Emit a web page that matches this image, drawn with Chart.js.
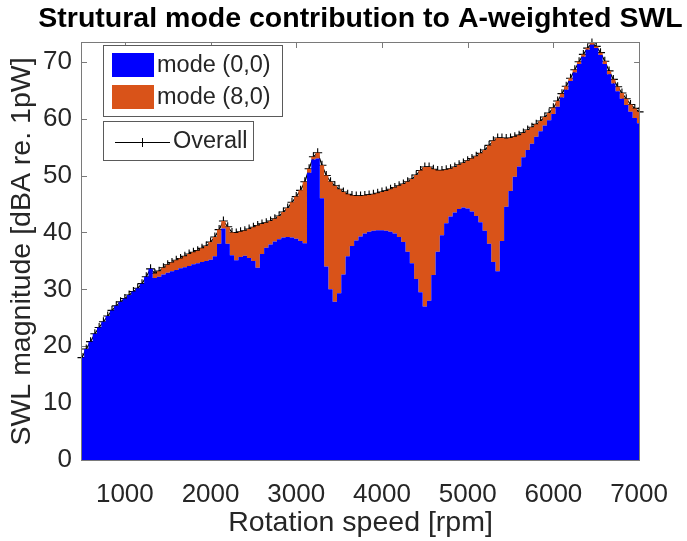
<!DOCTYPE html>
<html>
<head>
<meta charset="utf-8">
<script src="https://cdn.jsdelivr.net/npm/chart.js@4/dist/chart.umd.min.js"></script>
<style>
  html, body { margin: 0; padding: 0; background: #fff; }
  canvas { display: block; }
</style>
</head>
<body>
<canvas id="swl" width="687" height="541"></canvas>
<script>
// Rotation speed grid [rpm]
const rpm = [
  500, 550, 600, 650, 700, 750, 800, 850, 900, 950,
  1000, 1050, 1100, 1150, 1200, 1250, 1300, 1350, 1400, 1450,
  1500, 1550, 1600, 1650, 1700, 1750, 1800, 1850, 1900, 1950,
  2000, 2050, 2100, 2150, 2200, 2250, 2300, 2350, 2400, 2450,
  2500, 2550, 2600, 2650, 2700, 2750, 2800, 2850, 2900, 2950,
  3000, 3050, 3100, 3150, 3200, 3250, 3300, 3350, 3400, 3450,
  3500, 3550, 3600, 3650, 3700, 3750, 3800, 3850, 3900, 3950,
  4000, 4050, 4100, 4150, 4200, 4250, 4300, 4350, 4400, 4450,
  4500, 4550, 4600, 4650, 4700, 4750, 4800, 4850, 4900, 4950,
  5000, 5050, 5100, 5150, 5200, 5250, 5300, 5350, 5400, 5450,
  5500, 5550, 5600, 5650, 5700, 5750, 5800, 5850, 5900, 5950,
  6000, 6050, 6100, 6150, 6200, 6250, 6300, 6350, 6400, 6450,
  6500, 6550, 6600, 6650, 6700, 6750, 6800, 6850, 6900, 6950,
  7000
];

// Stacked share of mode (0,0) [dBA]
const mode00 = [
  18.0, 19.5, 20.8, 22.2, 23.3, 24.3, 25.3, 26.3, 27.1, 27.8,
  28.4, 29.0, 29.6, 30.2, 31.0, 32.2, 33.6, 32.0, 32.2, 32.6,
  32.9, 33.2, 33.4, 33.7, 33.9, 34.1, 34.4, 34.6, 34.8, 35.0,
  35.2, 35.8, 38.0, 40.7, 38.0, 36.0, 35.1, 35.7, 35.9, 35.5,
  35.0, 33.8, 36.2, 37.3, 37.9, 38.4, 38.8, 39.1, 39.2, 39.1,
  38.9, 38.5, 38.1, 50.5, 52.8, 53.0, 46.0, 34.0, 30.0, 27.8,
  29.3, 32.6, 35.8, 37.6, 38.6, 39.3, 39.8, 40.1, 40.3, 40.4,
  40.4, 40.3, 40.1, 39.8, 39.2, 38.3, 36.6, 34.6, 31.8, 29.5,
  27.0, 28.0, 32.5, 36.6, 39.5, 41.6, 42.8, 43.5, 44.1, 44.4,
  44.2, 43.7, 42.9, 41.8, 40.3, 38.0, 34.8, 33.2, 38.5, 44.5,
  47.3, 49.8, 51.6, 53.2, 54.5, 55.6, 56.8, 57.8, 58.8, 59.7,
  60.8, 62.1, 63.7, 65.1, 66.6, 68.1, 69.6, 70.9, 72.1, 73.0,
  72.4, 71.2, 69.6, 67.8, 66.2, 64.8, 63.5, 62.4, 61.2, 60.1,
  59.2
];

// Stacked share of mode (8,0) [dBA]
const mode80 = [
  0.0, 0.0, 0.0, 0.0, 0.0, 0.0, 0.0, 0.0, 0.0, 0.0,
  0.0, 0.0, 0.0, 0.0, 0.0, 0.0, 0.0, 0.8, 1.0, 1.2,
  1.4, 1.5, 1.7, 1.7, 1.9, 2.1, 2.1, 2.2, 2.4, 2.6,
  3.1, 3.4, 2.5, 1.3, 3.0, 4.0, 4.8, 4.4, 4.4, 5.1,
  5.9, 7.4, 5.3, 4.4, 4.1, 4.0, 4.1, 4.5, 5.1, 6.2,
  7.4, 8.9, 10.8, 0.7, 0.5, 1.0, 5.8, 16.0, 18.9, 20.4,
  18.3, 14.5, 10.9, 8.9, 7.8, 7.1, 6.7, 6.5, 6.4, 6.5,
  6.7, 7.0, 7.5, 8.1, 9.0, 10.2, 12.3, 14.8, 18.3, 21.4,
  24.5, 23.5, 18.6, 14.3, 11.4, 9.4, 8.4, 8.0, 7.8, 7.8,
  8.4, 9.3, 10.5, 12.1, 14.2, 17.3, 21.3, 23.4, 18.1, 12.0,
  9.3, 7.0, 5.5, 4.3, 3.5, 2.9, 2.2, 1.8, 1.5, 1.3,
  1.1, 1.0, 0.7, 0.6, 0.5, 0.5, 0.4, 0.4, 0.3, 0.3,
  0.3, 0.4, 0.5, 0.6, 0.7, 0.8, 1.0, 1.1, 1.3, 1.7,
  2.0
];

// Overall A-weighted sound power level [dBA]
const overall = [
  18.0, 19.5, 20.8, 22.2, 23.3, 24.3, 25.3, 26.3, 27.1, 27.8,
  28.4, 29.0, 29.6, 30.2, 31.0, 32.2, 33.6, 32.8, 33.2, 33.8,
  34.3, 34.7, 35.1, 35.4, 35.8, 36.2, 36.5, 36.8, 37.2, 37.6,
  38.3, 39.2, 40.5, 42.0, 41.0, 40.0, 39.9, 40.1, 40.3, 40.6,
  40.9, 41.2, 41.5, 41.7, 42.0, 42.4, 42.9, 43.6, 44.3, 45.3,
  46.3, 47.4, 48.9, 51.2, 53.3, 54.0, 51.8, 50.0, 48.9, 48.2,
  47.6, 47.1, 46.7, 46.5, 46.4, 46.4, 46.5, 46.6, 46.7, 46.9,
  47.1, 47.3, 47.6, 47.9, 48.2, 48.5, 48.9, 49.4, 50.1, 50.9,
  51.5, 51.5, 51.1, 50.9, 50.9, 51.0, 51.2, 51.5, 51.9, 52.2,
  52.6, 53.0, 53.4, 53.9, 54.5, 55.3, 56.1, 56.6, 56.6, 56.5,
  56.6, 56.8, 57.1, 57.5, 58.0, 58.5, 59.0, 59.6, 60.3, 61.0,
  61.9, 63.1, 64.4, 65.7, 67.1, 68.6, 70.0, 71.3, 72.4, 73.3,
  72.7, 71.6, 70.1, 68.4, 66.9, 65.6, 64.5, 63.5, 62.5, 61.8,
  61.2
];

const xTicks = [1000, 2000, 3000, 4000, 5000, 6000, 7000];
const yTicks = [0, 10, 20, 30, 40, 50, 60, 70];

const titleText = 'Strutural mode contribution to A-weighted SWL';
const xLabel = 'Rotation speed [rpm]';
const yLabel = 'SWL magnitude [dBA re. 1pW]';
const seriesNames = ['mode (0,0)', 'mode (8,0)', 'Overall'];

const FONT = '"Liberation Sans", Arial, Helvetica, sans-serif';
const TEXT = '#262626';
const AXIS = '#7a7a7a';
const BLUE = '#0000ff';
const ORANGE = '#d95319';

const pts = arr => rpm.map((r, i) => ({ x: r, y: arr[i] }));

// axes box, inside tick marks, title and the two legend boxes
const matlabFrame = {
  id: 'matlabFrame',
  beforeDraw(chart) {
    const { ctx, width, height } = chart;
    ctx.save();
    ctx.fillStyle = '#fff';
    ctx.fillRect(0, 0, width, height);
    ctx.restore();
  },
  beforeDatasetsDraw(chart) {
    const { ctx, chartArea: a, scales: { x, y } } = chart;
    const len = 5;
    ctx.save();
    ctx.strokeStyle = AXIS;
    ctx.lineWidth = 1;
    ctx.beginPath();
    xTicks.forEach(v => {
      const px = Math.round(x.getPixelForValue(v)) + 0.5;
      ctx.moveTo(px, a.top); ctx.lineTo(px, a.top + len);
      ctx.moveTo(px, a.bottom); ctx.lineTo(px, a.bottom - len);
    });
    yTicks.forEach(v => {
      const py = Math.round(y.getPixelForValue(v)) + 0.5;
      ctx.moveTo(a.left, py); ctx.lineTo(a.left + len, py);
      ctx.moveTo(a.right, py); ctx.lineTo(a.right - len, py);
    });
    ctx.stroke();
    ctx.restore();
  },
  afterDraw(chart) {
    const { ctx, chartArea: a } = chart;
    ctx.save();

    // axes box
    ctx.strokeStyle = AXIS;
    ctx.lineWidth = 1;
    ctx.strokeRect(Math.round(a.left) - 0.5, Math.round(a.top) - 0.5,
                   Math.round(a.right - a.left) + 1, Math.round(a.bottom - a.top) + 1);

    // title, centred over the axes
    ctx.fillStyle = '#000';
    ctx.font = 'bold 28.5px ' + FONT;
    ctx.textAlign = 'center';
    ctx.textBaseline = 'middle';
    ctx.fillText(titleText, (a.left + a.right) / 2, 19);

    // legend for the stacked areas
    ctx.font = '23.5px ' + FONT;
    ctx.textAlign = 'left';
    const ds = chart.data.datasets;
    const b1 = { x: 103.5, y: 45.5, w: 179, h: 71 };
    const need1 = 157 + Math.max(ctx.measureText(ds[0].label).width, ctx.measureText(ds[1].label).width) + 8 - b1.x;
    b1.w = Math.max(b1.w, Math.ceil(need1));
    ctx.fillStyle = '#fff';
    ctx.fillRect(b1.x, b1.y, b1.w, b1.h);
    ctx.strokeStyle = '#5a5a5a';
    ctx.strokeRect(b1.x, b1.y, b1.w, b1.h);
    ctx.fillStyle = ds[0].backgroundColor;
    ctx.fillRect(112, 53, 42, 24);
    ctx.fillStyle = ds[1].backgroundColor;
    ctx.fillRect(112, 85, 42, 24);
    ctx.fillStyle = TEXT;
    ctx.fillText(ds[0].label, 157, 66);
    ctx.fillText(ds[1].label, 157, 98);

    // legend for the overall curve
    const b2 = { x: 103.5, y: 121.5, w: 147, h: 39 };
    const need2 = 173 + ctx.measureText(ds[2].label).width + 6 - b2.x;
    b2.w = Math.max(b2.w, Math.ceil(need2));
    ctx.fillStyle = '#fff';
    ctx.fillRect(b2.x, b2.y, b2.w, b2.h);
    ctx.strokeStyle = '#5a5a5a';
    ctx.strokeRect(b2.x, b2.y, b2.w, b2.h);
    ctx.strokeStyle = '#000';
    ctx.beginPath();
    ctx.moveTo(115, 142.5); ctx.lineTo(170, 142.5);
    ctx.moveTo(142.5, 138); ctx.lineTo(142.5, 147);
    ctx.stroke();
    ctx.fillStyle = TEXT;
    ctx.fillText(ds[2].label, 173, 142);

    ctx.restore();
  }
};

new Chart(document.getElementById('swl'), {
  type: 'line',
  data: {
    datasets: [
      {
        label: seriesNames[0],
        data: pts(mode00),
        stack: 'modes',
        stepped: 'middle',
        fill: 'origin',
        backgroundColor: BLUE,
        borderWidth: 0,
        pointRadius: 0
      },
      {
        label: seriesNames[1],
        data: pts(mode80),
        stack: 'modes',
        stepped: 'middle',
        fill: '-1',
        backgroundColor: ORANGE,
        borderWidth: 0,
        pointRadius: 0
      },
      {
        label: seriesNames[2],
        data: pts(overall),
        stack: 'total',
        fill: false,
        borderColor: '#000',
        backgroundColor: '#000',
        borderWidth: 1.2,
        tension: 0,
        pointStyle: 'cross',
        pointRadius: 4.5,
        pointBorderWidth: 1.1,
        pointBorderColor: '#000',
        clip: false
      }
    ]
  },
  options: {
    responsive: false,
    animation: false,
    devicePixelRatio: 1,
    events: [],
    layout: { padding: { left: 0, right: 45, top: 43, bottom: 0 } },
    plugins: {
      legend: { display: false },
      tooltip: { enabled: false },
      title: { display: false }
    },
    scales: {
      x: {
        type: 'linear',
        min: 500,
        max: 7000,
        afterBuildTicks: s => { s.ticks = xTicks.map(v => ({ value: v })); },
        afterFit: s => { s.height = 81; },
        grid: { display: false, drawTicks: false },
        border: { display: false },
        ticks: {
          autoSkip: false, maxRotation: 0, padding: 19,
          color: TEXT, font: { family: FONT, size: 26 },
          callback: v => String(v)
        },
        title: {
          display: true, text: xLabel, color: TEXT,
          font: { family: FONT, size: 28.5 }, padding: { top: 0, bottom: 1 }
        }
      },
      y: {
        type: 'linear',
        stacked: true,
        min: 0,
        max: Math.max(...overall),
        afterBuildTicks: s => { s.ticks = yTicks.map(v => ({ value: v })); },
        afterFit: s => { s.width = 82; },
        grid: { display: false, drawTicks: false },
        border: { display: false },
        ticks: {
          padding: 10, color: TEXT, font: { family: FONT, size: 26 },
          callback: v => String(v)
        },
        title: {
          display: true, text: yLabel, color: TEXT,
          font: { family: FONT, size: 28.5 }, padding: { top: 5, bottom: 0 }
        }
      }
    }
  },
  plugins: [matlabFrame]
});
</script>
</body>
</html>
